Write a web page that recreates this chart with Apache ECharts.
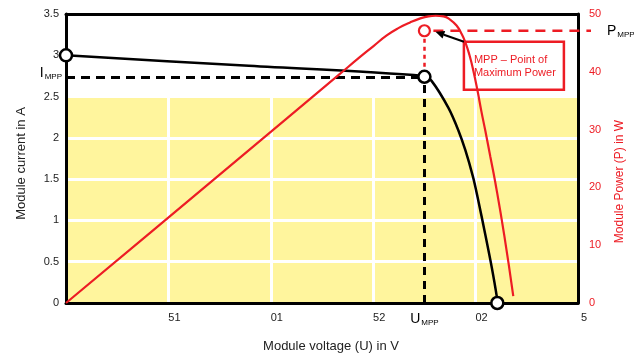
<!DOCTYPE html>
<html><head><meta charset="utf-8">
<script src="https://cdn.jsdelivr.net/npm/echarts@6/dist/echarts.min.js"></script>
<style>html,body{margin:0;padding:0;background:#fff}#c{width:634px;height:358px}</style>
</head><body><div id="c"></div>
<script>
// ---- data ----
const xTickValues = [0, 5, 10, 15, 20, 25];
const xTickLabels = ['', '51', '01', '52', '02', '5'];
const currentU = [0, 8.7, 17.46, 17.85, 18.68, 19.16, 19.50, 19.87, 20.09, 20.48, 20.79, 21.04, 21.06];
const currentI = [3.0, 2.875, 2.75, 2.69, 2.36, 2.09, 1.85, 1.53, 1.29, 0.82, 0.43, 0.07, 0];
const powerU = [0, 4.09, 10.8, 13.33, 14.30, 15.03, 15.66, 16.25, 16.78, 17.27, 17.70, 18.05, 18.43, 18.77, 19.07, 19.31, 19.50, 19.70, 19.89, 20.09, 20.28, 20.48, 20.72, 20.96, 21.40, 21.84];
const powerP = [0, 12.1, 32.0, 39.5, 42.4, 44.5, 46.3, 47.6, 48.5, 49.2, 49.6, 49.7, 49.6, 49.0, 48.0, 46.6, 45.1, 42.9, 40.2, 36.8, 33.2, 29.7, 25.3, 20.9, 11.7, 1.2];
const iscPoint = [0, 3.0];
const vocPoint = [21.06, 0];
const mppU = 17.5;
const mppI = 2.74;
const mppP = 47.1;
const yellowTop = 2.5;
const annotationLines = ['MPP – Point of', 'Maximum Power'];

const RED = '#ed1c24';
const FONT = '"Liberation Sans", Arial, sans-serif';
const zip = (a, b) => a.map((v, i) => [v, b[i]]);
const subRich = (color) => ({
  m: {fontSize: 14, color: color, fontFamily: FONT, lineHeight: 16},
  s: {fontSize: 8, color: color, fontFamily: FONT, lineHeight: 8, verticalAlign: 'bottom', padding: [0, 0, 0, 1]}
});

const chart = echarts.init(document.getElementById('c'), null, {renderer: 'canvas'});
const option = {
  animation: false,
  textStyle: {fontFamily: FONT},
  grid: {left: 66, right: 54, top: 14, bottom: 49, containLabel: false},
  xAxis: [{
    type: 'value', min: 0, max: 25, interval: 5, position: 'bottom', z: 3,
    axisLine: {show: true, onZero: false, lineStyle: {color: '#000', width: 3}},
    axisTick: {show: false},
    splitLine: {show: true, showMinLine: false, showMaxLine: false, lineStyle: {color: '#fff', width: 3}},
    axisLabel: {color: '#222', fontSize: 11, margin: 9, padding: [0, 0, 0, 12],
      formatter: v => { const i = xTickValues.indexOf(v); return i >= 0 ? xTickLabels[i] : ''; }},
    name: 'Module voltage (U) in V', nameLocation: 'middle', nameGap: 37,
    nameTextStyle: {color: '#222', fontSize: 13, padding: [0, 0, 0, 18]}
  }, {
    type: 'value', min: 0, max: 25, position: 'top', z: 3,
    axisLine: {show: true, onZero: false, lineStyle: {color: '#000', width: 3}},
    axisTick: {show: false}, axisLabel: {show: false}, splitLine: {show: false}
  }],
  yAxis: [{
    type: 'value', min: 0, max: 3.5, interval: 0.5, position: 'left', z: 3,
    axisLine: {show: true, onZero: false, lineStyle: {color: '#000', width: 3}},
    axisTick: {show: false},
    splitLine: {show: true, showMinLine: false, showMaxLine: false, lineStyle: {color: '#fff', width: 3}},
    axisLabel: {color: '#222', fontSize: 11, margin: 7},
    name: 'Module current in A', nameLocation: 'middle', nameGap: 38,
    nameTextStyle: {color: '#222', fontSize: 13, padding: [0, 10, 0, 0]}
  }, {
    type: 'value', min: 0, max: 50, interval: 10, position: 'right', z: 3,
    axisLine: {show: true, onZero: false, lineStyle: {color: '#000', width: 3}},
    axisTick: {show: false}, splitLine: {show: false},
    axisLabel: {color: RED, fontSize: 11, margin: 11},
    name: 'Module Power (P) in W', nameLocation: 'middle', nameGap: 36,
    nameTextStyle: {color: RED, fontSize: 12, padding: [0, 46, 0, 0]}
  }],
  series: [
    {
      type: 'line', data: [], z: 1, silent: true,
      markArea: {silent: true, itemStyle: {color: '#fff59d'},
        data: [[{coord: [0, 0]}, {coord: [25, yellowTop]}]]}
    },
    {
      type: 'line', data: zip(currentU, currentI), smooth: 0.3, symbol: 'none', z: 4,
      lineStyle: {color: '#000', width: 2.5},
      markLine: {
        silent: true, symbol: ['none', 'none'], z: 4,
        data: [
          [{coord: [0, mppI], lineStyle: {type: [9, 6], color: '#000', width: 3},
            label: {show: true, position: 'start', distance: 4, padding: [0, 0, 8, 0], formatter: '{m|I}{s|MPP}', rich: subRich('#000')}},
           {coord: [mppU, mppI]}],
          [{coord: [mppU, 0], lineStyle: {type: [8, 6], color: '#000', width: 3},
            label: {show: true, position: 'start', distance: 8, formatter: '{m|U}{s|MPP}', rich: subRich('#000')}},
           {coord: [mppU, mppI]}]
        ]
      }
    },
    {
      type: 'line', data: zip(powerU, powerP), yAxisIndex: 1, smooth: 0.5, symbol: 'none', z: 4,
      lineStyle: {color: RED, width: 2.2},
      markLine: {
        silent: true, symbol: ['none', 'none'], z: 4,
        data: [
          [{coord: [mppU, mppP], lineStyle: {type: [4, 4], color: RED, width: 2.5}, label: {show: false}},
           {coord: [mppU, mppI / 3.5 * 50]}]
        ]
      }
    },
    {
      type: 'scatter', data: [iscPoint, [mppU, mppI], vocPoint], symbol: 'circle', symbolSize: 12, z: 6, clip: false,
      itemStyle: {color: '#fff', borderColor: '#000', borderWidth: 2.5, opacity: 1}
    },
    {
      type: 'scatter', yAxisIndex: 1, data: [[mppU, mppP]], symbol: 'circle', symbolSize: 11, z: 6, clip: false,
      itemStyle: {color: '#fff', borderColor: RED, borderWidth: 2.2, opacity: 1}
    }
  ]
};
chart.setOption(option);

// annotations anchored to the MPP pixel position
const pM = chart.convertToPixel({xAxisIndex: 0, yAxisIndex: 1}, [mppU, mppP]);
const pR = chart.convertToPixel({xAxisIndex: 0, yAxisIndex: 1}, [25, mppP]);
const boxX = pM[0] + 39.5, boxY = pM[1] + 11, boxW = 100, boxH = 48;
const tip = [pM[0] + 11, pM[1] + 1];
const dx = tip[0] - boxX, dy = tip[1] - boxY, len = Math.hypot(dx, dy);
const ux = dx / len, uy = dy / len;
const headL = 9, headW = 4;
const baseX = tip[0] - ux * headL, baseY = tip[1] - uy * headL;
chart.setOption({
  graphic: [
    {type: 'line', z: 5, shape: {x1: pM[0] + 9, y1: pM[1], x2: pR[0] + 13, y2: pM[1]},
      style: {stroke: RED, lineWidth: 2.5, lineDash: [10, 7]}},
    {type: 'text', z: 5, x: pR[0] + 29, y: pM[1] - 8,
      style: {text: '{m|P}{s|MPP}', rich: subRich(RED)}},
    {type: 'rect', z: 5, shape: {x: boxX, y: boxY, width: boxW, height: boxH},
      style: {fill: 'none', stroke: RED, lineWidth: 2.5}},
    {type: 'text', z: 5, x: boxX + 10, y: boxY + 12,
      style: {text: annotationLines.join('\n'), fill: RED, font: '11px ' + FONT, lineHeight: 12.5}},
    {type: 'line', z: 6, shape: {x1: boxX, y1: boxY, x2: baseX, y2: baseY},
      style: {stroke: '#000', lineWidth: 2}},
    {type: 'polygon', z: 6, shape: {points: [tip, [baseX - uy * headW, baseY + ux * headW], [baseX + uy * headW, baseY - ux * headW]]},
      style: {fill: '#000'}}
  ]
});
</script>
</body></html>
